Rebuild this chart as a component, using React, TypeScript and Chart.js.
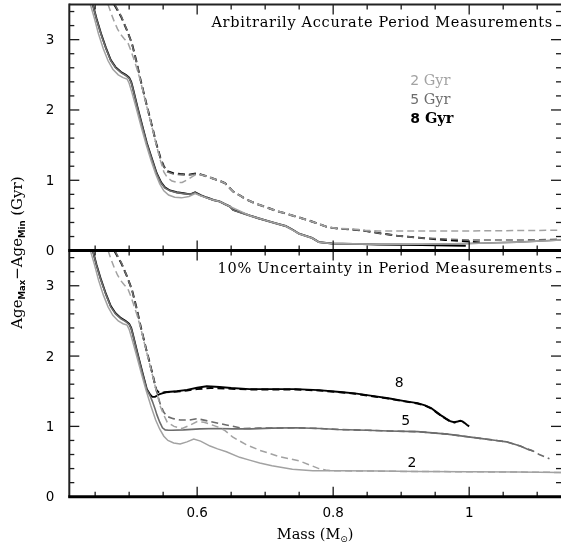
import React, { useEffect, useRef } from 'react';
import { Chart, registerables } from 'chart.js';

Chart.register(...registerables);

// ---------- colours ----------
const LIGHT = '#a2a2a2';
const MID = '#6c6c6c';
const DARK = '#000000';

// ---------- top panel: arbitrarily accurate periods ----------
const topSolid8Mass = [0.4465, 0.452, 0.4585, 0.466, 0.473, 0.480, 0.488, 0.495, 0.500, 0.503, 0.505, 0.512, 0.520, 0.526, 0.534, 0.5405, 0.547, 0.5526, 0.560, 0.570, 0.580, 0.590, 0.597, 0.605, 0.614, 0.624, 0.633, 0.641, 0.648, 0.653, 0.665, 0.677, 0.690, 0.701, 0.715, 0.730, 0.740, 0.750, 0.769, 0.779, 0.798, 0.830, 0.866, 0.930, 0.995];
const topSolid8Age = [3.5, 3.3, 3.09, 2.88, 2.71, 2.61, 2.54, 2.50, 2.46, 2.40, 2.33, 2.05, 1.75, 1.53, 1.29, 1.10, 0.97, 0.90, 0.855, 0.83, 0.815, 0.80, 0.83, 0.79, 0.755, 0.72, 0.70, 0.66, 0.63, 0.58, 0.54, 0.50, 0.46, 0.43, 0.39, 0.35, 0.30, 0.24, 0.18, 0.12, 0.10, 0.095, 0.085, 0.08, 0.07];

const topSolid5Mass = [0.4465, 0.452, 0.4585, 0.466, 0.473, 0.480, 0.488, 0.495, 0.500, 0.503, 0.505, 0.512, 0.520, 0.526, 0.534, 0.5405, 0.547, 0.5526, 0.560, 0.570, 0.580, 0.590, 0.597, 0.605, 0.614, 0.624, 0.633, 0.641, 0.648, 0.653, 0.665, 0.677, 0.690, 0.701, 0.715, 0.730, 0.740, 0.750, 0.769, 0.779, 0.798, 0.830, 0.866, 0.930, 1.000, 1.070, 1.135];
const topSolid5Age = [3.5, 3.29, 3.08, 2.87, 2.70, 2.60, 2.53, 2.49, 2.45, 2.39, 2.32, 2.04, 1.74, 1.52, 1.28, 1.09, 0.96, 0.89, 0.85, 0.825, 0.81, 0.80, 0.825, 0.785, 0.75, 0.715, 0.695, 0.655, 0.625, 0.575, 0.535, 0.495, 0.455, 0.425, 0.385, 0.345, 0.295, 0.235, 0.175, 0.12, 0.10, 0.095, 0.09, 0.09, 0.10, 0.12, 0.15];

const topSolid2Mass = [0.443, 0.449, 0.455, 0.462, 0.469, 0.476, 0.484, 0.491, 0.497, 0.500, 0.504, 0.510, 0.518, 0.525, 0.532, 0.539, 0.545, 0.551, 0.558, 0.567, 0.577, 0.588, 0.597, 0.605, 0.614, 0.624, 0.633, 0.648, 0.677, 0.701, 0.730, 0.750, 0.769, 0.779, 0.798, 0.866, 0.930, 1.000, 1.070, 1.135];
const topSolid2Age = [3.5, 3.3, 3.08, 2.87, 2.70, 2.58, 2.50, 2.46, 2.44, 2.38, 2.25, 2.04, 1.75, 1.51, 1.29, 1.09, 0.95, 0.85, 0.79, 0.76, 0.75, 0.77, 0.81, 0.78, 0.75, 0.72, 0.70, 0.63, 0.50, 0.43, 0.35, 0.24, 0.18, 0.12, 0.10, 0.09, 0.09, 0.10, 0.12, 0.15];

const topDash8Mass = [0.478, 0.488, 0.4965, 0.504, 0.511, 0.517, 0.523, 0.529, 0.535, 0.540, 0.546, 0.551, 0.556, 0.565, 0.575, 0.588, 0.600, 0.610, 0.619, 0.631, 0.641, 0.647, 0.653, 0.662, 0.672, 0.686, 0.701, 0.715, 0.730, 0.747, 0.764, 0.779, 0.793, 0.810, 0.827, 0.847, 0.866, 0.895, 0.930, 0.965, 1.000, 1.020];
const topDash8Age = [3.5, 3.33, 3.14, 2.95, 2.68, 2.42, 2.18, 1.95, 1.72, 1.52, 1.32, 1.20, 1.13, 1.10, 1.09, 1.08, 1.10, 1.07, 1.04, 1.00, 0.96, 0.90, 0.84, 0.79, 0.73, 0.67, 0.62, 0.57, 0.53, 0.48, 0.43, 0.38, 0.33, 0.31, 0.30, 0.28, 0.25, 0.21, 0.18, 0.15, 0.13, 0.11];

const topDash5Mass = [0.479, 0.489, 0.497, 0.504, 0.511, 0.517, 0.523, 0.529, 0.535, 0.540, 0.546, 0.551, 0.556, 0.565, 0.575, 0.588, 0.600, 0.610, 0.619, 0.631, 0.641, 0.647, 0.653, 0.662, 0.672, 0.686, 0.701, 0.715, 0.730, 0.747, 0.764, 0.779, 0.793, 0.810, 0.827, 0.847, 0.866, 0.895, 0.930, 1.000, 1.070, 1.135];
const topDash5Age = [3.5, 3.32, 3.13, 2.94, 2.67, 2.41, 2.17, 1.94, 1.71, 1.51, 1.31, 1.19, 1.12, 1.09, 1.08, 1.075, 1.09, 1.065, 1.035, 0.995, 0.955, 0.895, 0.835, 0.785, 0.725, 0.665, 0.615, 0.565, 0.525, 0.475, 0.425, 0.375, 0.33, 0.31, 0.30, 0.28, 0.25, 0.21, 0.18, 0.15, 0.15, 0.16];

const topDash2Mass = [0.469, 0.474, 0.478, 0.483, 0.488, 0.493, 0.498, 0.502, 0.506, 0.511, 0.517, 0.523, 0.529, 0.535, 0.540, 0.546, 0.551, 0.556, 0.563, 0.570, 0.578, 0.586, 0.594, 0.600, 0.610, 0.619, 0.631, 0.641, 0.647, 0.653, 0.662, 0.672, 0.686, 0.701, 0.715, 0.730, 0.747, 0.764, 0.779, 0.793, 0.810, 0.827, 0.847, 0.866, 0.900, 0.950, 1.000, 1.070, 1.135];
const topDash2Age = [3.5, 3.36, 3.26, 3.15, 3.07, 3.01, 2.96, 2.86, 2.75, 2.60, 2.40, 2.16, 1.93, 1.70, 1.50, 1.28, 1.12, 1.04, 0.99, 0.97, 0.97, 1.01, 1.06, 1.09, 1.07, 1.04, 1.00, 0.96, 0.90, 0.84, 0.79, 0.73, 0.67, 0.62, 0.57, 0.53, 0.48, 0.43, 0.38, 0.33, 0.315, 0.31, 0.29, 0.28, 0.28, 0.28, 0.28, 0.285, 0.29];

// ---------- bottom panel: 10% period uncertainty ----------
const botSolid8Mass = [0.4465, 0.452, 0.4585, 0.466, 0.473, 0.480, 0.488, 0.495, 0.500, 0.503, 0.505, 0.512, 0.520, 0.526, 0.531, 0.534, 0.538, 0.545, 0.556, 0.570, 0.585, 0.600, 0.614, 0.633, 0.650, 0.677, 0.710, 0.745, 0.779, 0.810, 0.832, 0.860, 0.881, 0.905, 0.924, 0.935, 0.944, 0.951, 0.958, 0.966, 0.973, 0.978, 0.983, 0.987, 0.990, 0.993, 0.997, 1.000];
const botSolid8Age = [3.5, 3.3, 3.09, 2.88, 2.71, 2.61, 2.54, 2.50, 2.46, 2.40, 2.33, 2.05, 1.75, 1.53, 1.45, 1.42, 1.42, 1.46, 1.49, 1.50, 1.52, 1.55, 1.57, 1.56, 1.545, 1.53, 1.53, 1.53, 1.515, 1.49, 1.47, 1.43, 1.40, 1.36, 1.33, 1.30, 1.26, 1.21, 1.16, 1.11, 1.07, 1.06, 1.07, 1.08, 1.07, 1.05, 1.02, 1.00];

const botDash8Mass = [0.478, 0.488, 0.4965, 0.504, 0.511, 0.517, 0.523, 0.529, 0.535, 0.540, 0.545, 0.552, 0.570, 0.585, 0.600, 0.620, 0.650, 0.677, 0.710, 0.745, 0.779, 0.810, 0.832, 0.860, 0.881, 0.905, 0.924, 0.935, 0.944, 0.951, 0.958, 0.966, 0.973, 0.980];
const botDash8Age = [3.5, 3.33, 3.14, 2.95, 2.68, 2.42, 2.18, 1.95, 1.72, 1.52, 1.47, 1.485, 1.495, 1.51, 1.53, 1.545, 1.535, 1.525, 1.525, 1.525, 1.51, 1.485, 1.465, 1.425, 1.395, 1.355, 1.325, 1.295, 1.255, 1.205, 1.155, 1.105, 1.065, 1.055];

const botSolid5Mass = [0.4465, 0.452, 0.4585, 0.466, 0.473, 0.480, 0.488, 0.495, 0.500, 0.503, 0.505, 0.512, 0.520, 0.526, 0.531, 0.534, 0.538, 0.541, 0.545, 0.549, 0.553, 0.558, 0.563, 0.580, 0.604, 0.630, 0.652, 0.680, 0.710, 0.745, 0.780, 0.808, 0.850, 0.881, 0.924, 0.968, 1.016, 1.040, 1.055, 1.075, 1.085, 1.094];
const botSolid5Age = [3.5, 3.29, 3.08, 2.87, 2.70, 2.60, 2.53, 2.49, 2.45, 2.39, 2.32, 2.04, 1.74, 1.52, 1.43, 1.36, 1.25, 1.16, 1.06, 0.98, 0.95, 0.945, 0.945, 0.95, 0.965, 0.97, 0.965, 0.965, 0.975, 0.98, 0.97, 0.955, 0.945, 0.935, 0.925, 0.89, 0.83, 0.80, 0.78, 0.72, 0.68, 0.65];

const botDash5Mass = [0.479, 0.489, 0.497, 0.504, 0.511, 0.517, 0.523, 0.529, 0.535, 0.540, 0.546, 0.551, 0.556, 0.565, 0.575, 0.588, 0.600, 0.619, 0.643, 0.668, 0.690, 0.710, 0.745, 0.780, 0.808, 0.850, 0.881, 0.924, 0.968, 1.016, 1.040, 1.055, 1.075, 1.085, 1.094, 1.103, 1.118];
const botDash5Age = [3.5, 3.32, 3.13, 2.94, 2.67, 2.41, 2.17, 1.94, 1.71, 1.51, 1.31, 1.20, 1.14, 1.11, 1.09, 1.09, 1.11, 1.07, 1.02, 0.97, 0.975, 0.975, 0.98, 0.97, 0.955, 0.945, 0.935, 0.925, 0.89, 0.83, 0.80, 0.78, 0.72, 0.68, 0.65, 0.60, 0.54];

const botSolid2Mass = [0.443, 0.449, 0.455, 0.462, 0.469, 0.476, 0.484, 0.491, 0.497, 0.500, 0.504, 0.510, 0.518, 0.525, 0.532, 0.539, 0.545, 0.551, 0.557, 0.5655, 0.575, 0.585, 0.595, 0.605, 0.619, 0.630, 0.643, 0.6625, 0.677, 0.692, 0.710, 0.740, 0.770, 0.808, 0.870, 0.924, 1.000, 1.070, 1.135];
const botSolid2Age = [3.5, 3.3, 3.08, 2.87, 2.70, 2.58, 2.50, 2.46, 2.44, 2.38, 2.25, 2.04, 1.75, 1.51, 1.29, 1.09, 0.96, 0.86, 0.80, 0.765, 0.75, 0.78, 0.82, 0.79, 0.72, 0.68, 0.64, 0.56, 0.52, 0.48, 0.44, 0.39, 0.37, 0.37, 0.365, 0.36, 0.355, 0.35, 0.345];

const botDash2Mass = [0.469, 0.474, 0.478, 0.483, 0.488, 0.493, 0.498, 0.502, 0.506, 0.511, 0.517, 0.523, 0.529, 0.535, 0.540, 0.546, 0.551, 0.556, 0.566, 0.578, 0.590, 0.600, 0.610, 0.619, 0.631, 0.641, 0.652, 0.672, 0.692, 0.721, 0.750, 0.779, 0.789, 0.800, 0.850, 0.900, 1.000, 1.070, 1.135];
const botDash2Age = [3.5, 3.36, 3.26, 3.15, 3.07, 3.01, 2.96, 2.86, 2.75, 2.60, 2.40, 2.16, 1.93, 1.70, 1.50, 1.28, 1.16, 1.06, 1.00, 0.97, 1.02, 1.07, 1.06, 1.03, 0.99, 0.94, 0.85, 0.74, 0.66, 0.57, 0.51, 0.40, 0.38, 0.37, 0.365, 0.36, 0.355, 0.35, 0.345];

// ---------- axes and text ----------
const massMin = 0.412;
const massMax = 1.135;
const ageMin = 0;
const ageMax = 3.5;
const xTickValues = [0.6, 0.8, 1.0];
const xTickLabels = ['0.6', '0.8', '1'];
const yTickValues = [0, 1, 2, 3];
const yTickLabels = ['0', '1', '2', '3'];
const topPanelTitle = 'Arbitrarily Accurate Period Measurements';
const bottomPanelTitle = '10% Uncertainty in Period Measurements';
const legendAges = ['2', '5', '8'];
const legendUnit = 'Gyr';
const legendColors = [LIGHT, MID, DARK];
const curveLabels = ['8', '5', '2'];
const curveLabelMass = [0.897, 0.9065, 0.916];
const curveLabelAge = [1.565, 1.02, 0.427];

const SERIF = '"DejaVu Serif", serif';
const SANS = '"DejaVu Sans", sans-serif';

const pts = (m: number[], v: number[]) => m.map((x, i) => ({ x, y: v[i] }));

type Part = { t: string; font: string; dy?: number };

function drawParts(ctx: CanvasRenderingContext2D, parts: Part[], x: number, y: number, align: 'left' | 'center' | 'right') {
  let total = 0;
  const widths = parts.map((p) => {
    ctx.font = p.font;
    const w = ctx.measureText(p.t).width;
    total += w;
    return w;
  });
  let cx = align === 'left' ? x : align === 'center' ? x - total / 2 : x - total;
  ctx.textAlign = 'left';
  ctx.textBaseline = 'alphabetic';
  parts.forEach((p, i) => {
    ctx.font = p.font;
    ctx.fillText(p.t, cx, y + (p.dy || 0));
    cx += widths[i];
  });
}

const decorPlugin = {
  id: 'decor',
  afterDatasetsDraw(chart: any) {
    const ctx: CanvasRenderingContext2D = chart.ctx;
    const xs = chart.scales.x;
    const yT = chart.scales.yTop;
    const yB = chart.scales.yBot;
    const { left, right } = chart.chartArea;
    const line = (x1: number, y1: number, x2: number, y2: number) => {
      ctx.beginPath();
      ctx.moveTo(x1, y1);
      ctx.lineTo(x2, y2);
      ctx.stroke();
    };
    ctx.save();
    // tick marks (inward)
    ctx.strokeStyle = '#1a1a1a';
    ctx.lineWidth = 1.3;
    for (let i = 8; i <= 22; i++) {
      const v = i * 0.05;
      if (v <= massMin || v >= massMax) continue;
      const px = xs.getPixelForValue(v);
      const len = i % 4 === 0 ? 10 : 5;
      for (const s of [yT, yB]) {
        line(px, s.top, px, s.top + len);
        line(px, s.bottom, px, s.bottom - len);
      }
    }
    for (const s of [yT, yB]) {
      for (let j = 1; j <= 17; j++) {
        const v = j * 0.2;
        const py = s.getPixelForValue(v);
        const len = j % 5 === 0 ? 10 : 5;
        line(left, py, left + len, py);
        line(right, py, right - len, py);
      }
    }
    // frame
    ctx.strokeStyle = '#222';
    ctx.lineWidth = 2;
    line(left, yT.top, right, yT.top);
    line(left, yT.top - 1, left, yB.bottom + 1);
    ctx.strokeStyle = '#000';
    ctx.lineWidth = 3;
    line(left - 1, yT.bottom, right, yT.bottom);
    line(left - 1, yB.bottom, right, yB.bottom);

    // tick labels
    ctx.fillStyle = '#000';
    ctx.font = `13.5px ${SANS}`;
    ctx.textAlign = 'right';
    ctx.textBaseline = 'middle';
    for (const s of [yT, yB]) {
      yTickValues.forEach((v, i) => {
        ctx.fillText(yTickLabels[i], left - 15, s.getPixelForValue(v) + 1);
      });
    }
    ctx.textAlign = 'center';
    ctx.textBaseline = 'alphabetic';
    xTickValues.forEach((v, i) => {
      ctx.fillText(xTickLabels[i], xs.getPixelForValue(v), yB.bottom + 20);
    });

    // panel titles
    ctx.fillStyle = '#000';
    ctx.font = `14.5px ${SERIF}`;
    ctx.textAlign = 'right';
    (ctx as any).letterSpacing = '0.7px';
    ctx.fillText(topPanelTitle, right - 8, yT.top + 22);
    ctx.fillText(bottomPanelTitle, right - 8, yB.top + 22);
    (ctx as any).letterSpacing = '0px';

    // legend
    const lx = xs.getPixelForValue(0.9135);
    legendAges.forEach((a, i) => {
      ctx.fillStyle = legendColors[i];
      drawParts(ctx, [
        { t: a + ' ', font: `${i === 2 ? 'bold ' : ''}14px ${SANS}` },
        { t: legendUnit, font: `${i === 2 ? 'bold ' : ''}14.5px ${SERIF}` },
      ], lx, yT.getPixelForValue(2.357 - i * 0.268), 'left');
    });

    // curve labels in bottom panel
    ctx.fillStyle = '#000';
    ctx.font = `14px ${SANS}`;
    ctx.textAlign = 'center';
    curveLabels.forEach((t, i) => {
      ctx.fillText(t, xs.getPixelForValue(curveLabelMass[i]), yB.getPixelForValue(curveLabelAge[i]));
    });

    // axis titles
    drawParts(ctx, [
      { t: 'Mass (M', font: `14.5px ${SERIF}` },
      { t: '\u2299', font: `9px ${SANS}`, dy: 3 },
      { t: ')', font: `14.5px ${SERIF}` },
    ], (left + right) / 2, yB.bottom + 42, 'center');

    ctx.save();
    ctx.translate(21.5, (yT.top + yB.bottom) / 2 + 2);
    ctx.rotate(-Math.PI / 2);
    drawParts(ctx, [
      { t: 'Age', font: `15px ${SERIF}` },
      { t: 'Max', font: `bold 8.5px ${SANS}`, dy: 3 },
      { t: '\u2212Age', font: `15px ${SERIF}` },
      { t: 'Min', font: `bold 8.5px ${SANS}`, dy: 3 },
      { t: ' (Gyr)', font: `15px ${SERIF}` },
    ], 0, 0, 'center');
    ctx.restore();

    ctx.restore();
  },
};

function ds(label: string, m: number[], v: number[], axis: string, color: string, dashed: boolean, width: number) {
  return {
    label,
    data: pts(m, v),
    yAxisID: axis,
    borderColor: color,
    borderWidth: width,
    borderDash: dashed ? [7, 4] : [],
    pointRadius: 0,
    fill: false,
    tension: 0,
  };
}

export default function App() {
  const ref = useRef<HTMLCanvasElement | null>(null);
  useEffect(() => {
    if (!ref.current) return;
    const chart = new Chart(ref.current, {
      type: 'line',
      data: {
        datasets: [
          ds('top 2 dashed', topDash2Mass, topDash2Age, 'yTop', LIGHT, true, 1.5),
          ds('top 2 solid', topSolid2Mass, topSolid2Age, 'yTop', LIGHT, false, 1.5),
          ds('top 5 dashed', topDash5Mass, topDash5Age, 'yTop', MID, true, 1.6),
          ds('top 5 solid', topSolid5Mass, topSolid5Age, 'yTop', MID, false, 1.6),
          ds('top 8 dashed', topDash8Mass, topDash8Age, 'yTop', DARK, true, 1.9),
          ds('top 8 solid', topSolid8Mass, topSolid8Age, 'yTop', DARK, false, 1.9),
          ds('bot 2 dashed', botDash2Mass, botDash2Age, 'yBot', LIGHT, true, 1.5),
          ds('bot 2 solid', botSolid2Mass, botSolid2Age, 'yBot', LIGHT, false, 1.5),
          ds('bot 5 dashed', botDash5Mass, botDash5Age, 'yBot', MID, true, 1.6),
          ds('bot 5 solid', botSolid5Mass, botSolid5Age, 'yBot', MID, false, 1.6),
          ds('bot 8 dashed', botDash8Mass, botDash8Age, 'yBot', DARK, true, 1.9),
          ds('bot 8 solid', botSolid8Mass, botSolid8Age, 'yBot', DARK, false, 1.9),
        ],
      },
      options: {
        responsive: false,
        animation: false,
        devicePixelRatio: 1,
        events: [],
        layout: { padding: { top: 4.5, left: 0, right: 0, bottom: 0 } },
        plugins: { legend: { display: false }, tooltip: { enabled: false } },
        scales: {
          x: {
            type: 'linear',
            position: 'bottom',
            min: massMin,
            max: massMax,
            grid: { display: false },
            border: { display: false },
            ticks: { display: false },
            afterFit: (s: any) => { s.height = 52.3; },
          },
          yTop: {
            type: 'linear',
            position: 'left',
            stack: 'panels',
            stackWeight: 1,
            weight: 2,
            min: ageMin,
            max: ageMax,
            grid: { display: false },
            border: { display: false },
            ticks: { display: false },
            afterFit: (s: any) => { s.width = 69.3; },
          },
          yBot: {
            type: 'linear',
            position: 'left',
            stack: 'panels',
            stackWeight: 1,
            weight: 1,
            min: ageMin,
            max: ageMax,
            grid: { display: false },
            border: { display: false },
            ticks: { display: false },
            afterFit: (s: any) => { s.width = 69.3; },
          },
        },
      } as any,
      plugins: [decorPlugin],
    });
    return () => chart.destroy();
  }, []);
  return (
    <div style={{ position: 'absolute', left: 0, top: 0, width: 561, height: 549, overflow: 'hidden', background: '#fff' }}>
      <canvas ref={ref} width={561} height={549} style={{ display: 'block' }} />
    </div>
  );
}
